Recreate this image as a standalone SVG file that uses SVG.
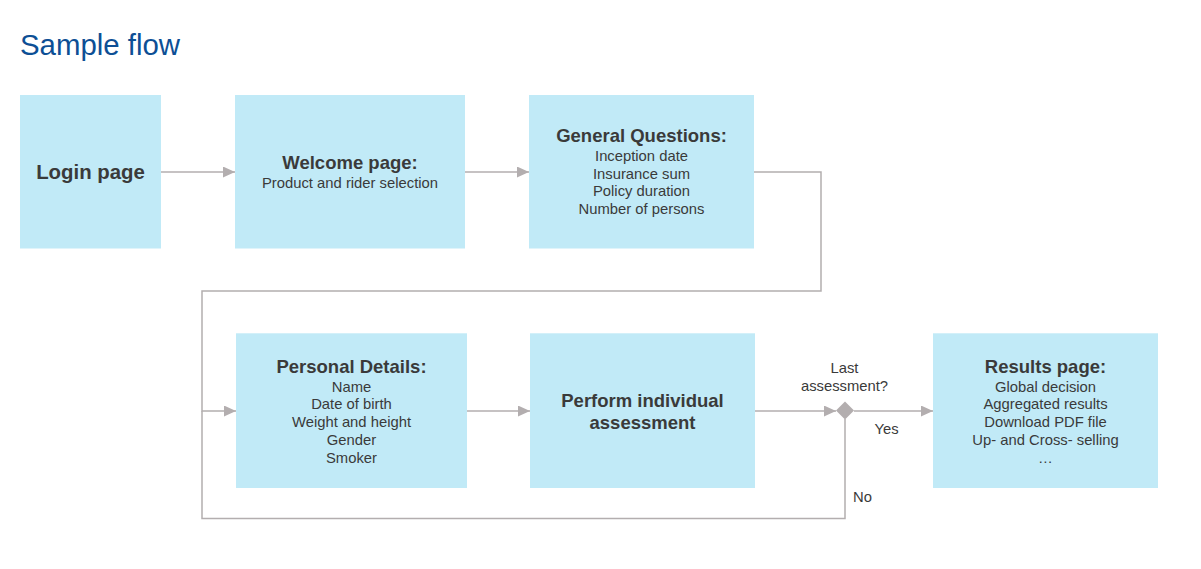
<svg xmlns="http://www.w3.org/2000/svg" width="1201" height="569" viewBox="0 0 1201 569">
<style>
.box{fill:#c1eaf7}
.t{font-family:"Liberation Sans",Arial,sans-serif;fill:#3a3a3a;text-anchor:middle}
.h{font-size:18.5px;font-weight:bold}
.i{font-size:14.8px}
.c{fill:none;stroke:#b3aeaf;stroke-width:1.5}
.lbl{font-family:"Liberation Sans",Arial,sans-serif;fill:#3a3a3a;font-size:14.8px}
</style>
<defs>
<marker id="arr" markerWidth="12" markerHeight="11" refX="12" refY="5.5" orient="auto" markerUnits="userSpaceOnUse">
<path d="M0,0 L12,5.5 L0,11 Z" fill="#b3aeaf"/>
</marker>
</defs>
<rect width="1201" height="569" fill="#ffffff"/>
<text x="20" y="55" font-family="Liberation Sans,Arial,sans-serif" font-size="29.4" fill="#0d4f95">Sample flow</text>

<g id="connectors">
<line class="c" x1="161" y1="172" x2="235" y2="172" marker-end="url(#arr)"/>
<line class="c" x1="465" y1="172" x2="529" y2="172" marker-end="url(#arr)"/>
<polyline class="c" points="754,172 821,172 821,291 202,291 202,411 236,411" marker-end="url(#arr)"/>
<line class="c" x1="467" y1="411" x2="530" y2="411" marker-end="url(#arr)"/>
<line class="c" x1="755" y1="411" x2="836" y2="411" marker-end="url(#arr)"/>
<line class="c" x1="854" y1="411" x2="933" y2="411" marker-end="url(#arr)"/>
<polyline class="c" points="845,419 845,518.5 202,518.5 202,411"/>
<text class="lbl" x="844.5" y="373" text-anchor="middle">Last</text>
<text class="lbl" x="844.5" y="390.5" text-anchor="middle">assessment?</text>
<text class="lbl" x="886.5" y="434" text-anchor="middle">Yes</text>
<text class="lbl" x="853" y="501.5">No</text>
</g>

<g id="decision">
<polygon points="845,401.5 854,410.5 845,419.5 836,410.5" fill="#b3aeaf"/>
</g>

<g id="login">
<rect class="box" x="20" y="95" width="141" height="153.5"/>
<text class="t" x="90.5" y="179.3" font-size="20.4" font-weight="bold">Login page</text>
</g>

<g id="welcome">
<rect class="box" x="235" y="95" width="230" height="153.5"/>
<text class="t h" x="350" y="169.3">Welcome page:</text>
<text class="t i" x="350" y="187.7">Product and rider selection</text>
</g>

<g id="general">
<rect class="box" x="529" y="95" width="225" height="153.5"/>
<text class="t h" x="641.5" y="141.7">General Questions:</text>
<text class="t i" x="641.5" y="161">Inception date</text>
<text class="t i" x="641.5" y="178.7">Insurance sum</text>
<text class="t i" x="641.5" y="196.4">Policy duration</text>
<text class="t i" x="641.5" y="214.1">Number of persons</text>
</g>

<g id="personal">
<rect class="box" x="236" y="333.3" width="231" height="154.7"/>
<text class="t h" x="351.5" y="372.5">Personal Details:</text>
<text class="t i" x="351.5" y="391.5">Name</text>
<text class="t i" x="351.5" y="409.3">Date of birth</text>
<text class="t i" x="351.5" y="427.1">Weight and height</text>
<text class="t i" x="351.5" y="444.9">Gender</text>
<text class="t i" x="351.5" y="462.7">Smoker</text>
</g>

<g id="perform">
<rect class="box" x="530" y="333.3" width="225" height="154.7"/>
<text class="t h" x="642.5" y="406.5">Perform individual</text>
<text class="t h" x="642.5" y="428.5">assessment</text>
</g>

<g id="results">
<rect class="box" x="933" y="333.3" width="225" height="154.7"/>
<text class="t h" x="1045.5" y="372.5">Results page:</text>
<text class="t i" x="1045.5" y="391.5">Global decision</text>
<text class="t i" x="1045.5" y="409.3">Aggregated results</text>
<text class="t i" x="1045.5" y="427.1">Download PDF file</text>
<text class="t i" x="1045.5" y="444.9">Up- and Cross- selling</text>
<text class="t i" x="1045.5" y="462.7">…</text>
</g>
</svg>
